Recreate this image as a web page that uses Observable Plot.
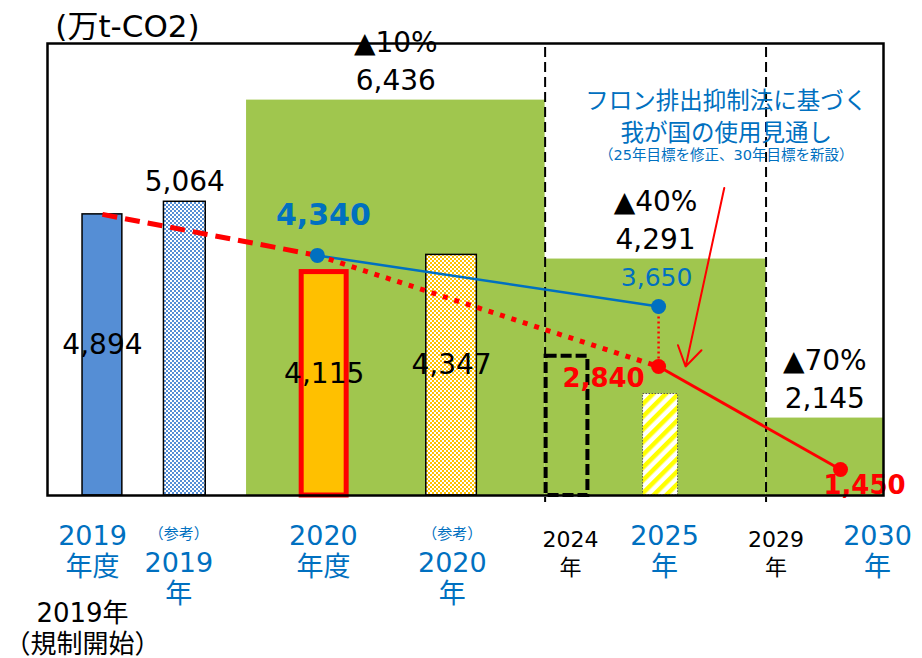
<!DOCTYPE html>
<html lang="ja">
<head>
<meta charset="utf-8">
<script src="https://cdn.jsdelivr.net/npm/d3@7"></script>
<script src="https://cdn.jsdelivr.net/npm/@observablehq/plot@0.6"></script>
<style>
  html, body { margin: 0; padding: 0; background: #fff; }
  #chart svg { display: block; }
</style>
</head>
<body>
<div id="chart"></div>
<script>
// HFC emissions and phase-down outlook (万t-CO2)

// bars: actuals, reference values and planned levels
const barCategories = ["2019年度", "参考2019年", "2020年度", "参考2020年", "2024年", "2025年"];
const barValues = [4894, 5064, 4115, 4347, 2980, 2470];

// phase-down caps per period
const capPeriods = ["2020–2023年", "2024–2028年", "2029年–"];
const capValues = [6436, 4291, 2145];
const capCuts = ["▲10%", "▲40%", "▲70%"];

// earlier outlook (blue)
const outlookCategories = ["2020年度", "2025年"];
const outlookValues = [4340, 3650];

// revised outlook (red)
const targetCategories = ["2019年度", "2020年度", "2025年", "2030年"];
const targetValues = [4894, 4340, 2840, 1450];

// x-axis labels
const tickCategories = ["2019年度", "参考2019年", "2020年度", "参考2020年", "2024年", "2025年", "2029年", "2030年"];
const tickLabels = ["2019\n年度", "2019\n年", "2020\n年度", "2020\n年", "2024\n年", "2025\n年", "2029\n年", "2030\n年"];
const tickNotes = ["", "（参考）", "", "（参考）", "", "", "", ""];

const unitLabel = "(万t-CO2)";
const calloutTitle = ["フロン排出抑制法に基づく", "我が国の使用見通し"];
const calloutNote = "（25年目標を修正、30年目標を新設）";
const startNote = ["2019年", "（規制開始）"];

// ---- layout & styles ----
const BLUE = "#0070C0", RED = "#FF0000", GREEN = "#A0C64E";
const yFloor = 1100, yCeil = 7200;
const fmt = d3.format(",");
const FONT = "'DejaVu Sans', 'Noto Sans CJK JP', sans-serif";

// horizontal slots on the x scale (0–21)
const barSlot = {"2019年度": 1.38, "参考2019年": 3.45, "2020年度": 6.95, "参考2020年": 10.15, "2024年": 13.05, "2025年": 15.4};
const barWidth = {"2019年度": 1.0, "参考2019年": 1.05, "2020年度": 1.13, "参考2020年": 1.27, "2024年": 1.05, "2025年": 0.88};
const pointSlot = {"2019年度": 1.38, "2020年度": 6.78, "2025年": 15.35, "2030年": 19.92};
const tickSlot = {"2019年度": 1.13, "参考2019年": 3.3, "2020年度": 6.93, "参考2020年": 10.17, "2024年": 13.14, "2025年": 15.5, "2029年": 18.3, "2030年": 20.85};
const periodEdges = [5, 12.5, 18.05, 21];
const calloutSlot = 17.05;

const barStyle = {
  "2019年度":   {fill: "#558ED5", stroke: "#000", strokeWidth: 1.5},
  "参考2019年": {fill: "url(#check-blue)", stroke: "#000", strokeWidth: 1.5},
  "2020年度":   {fill: "#FFC000", stroke: RED, strokeWidth: 5},
  "参考2020年": {fill: "url(#check-orange)", stroke: "#000", strokeWidth: 1.5},
  "2024年":     {fill: "none", stroke: "#000", strokeWidth: 4, strokeDasharray: "11,4"},
  "2025年":     {fill: "url(#stripe-yellow)", stroke: "#555", strokeWidth: 1, strokeDasharray: "1.5,1.5"}
};

// ---- derived tables ----
const bars = barCategories.map((cat, i) => ({cat, value: barValues[i]}));
const periods = capPeriods.map((period, i) => ({
  period, value: capValues[i], cut: capCuts[i], x1: periodEdges[i], x2: periodEdges[i + 1]
}));
const outlook = outlookCategories.map((cat, i) => ({cat, x: pointSlot[cat], value: outlookValues[i]}));
const targets = targetCategories.map((cat, i) => ({cat, x: pointSlot[cat], value: targetValues[i]}));
const ticks = tickCategories.map((cat, i) => ({cat, x: tickSlot[cat], label: tickLabels[i], note: tickNotes[i]}));

const targetSegments = d3.pairs(targets).map(([a, b]) => ({x1: a.x, y1: a.value, x2: b.x, y2: b.value}));
const segmentStyle = [
  {strokeWidth: 5, strokeDasharray: "15,8"},
  {strokeWidth: 5, strokeDasharray: "5,7"},
  {strokeWidth: 3}
];

// pattern fills for the reference and planned bars
function patternDefs() {
  const defs = d3.create("svg:defs");
  const checker = (id, color) => {
    const p = defs.append("pattern").attr("id", id)
      .attr("width", 4).attr("height", 4).attr("patternUnits", "userSpaceOnUse");
    p.append("rect").attr("width", 4).attr("height", 4).attr("fill", "#fff");
    p.append("rect").attr("width", 2).attr("height", 2).attr("fill", color);
    p.append("rect").attr("x", 2).attr("y", 2).attr("width", 2).attr("height", 2).attr("fill", color);
  };
  checker("check-blue", "#558ED5");
  checker("check-orange", "#FFC000");
  const s = defs.append("pattern").attr("id", "stripe-yellow")
    .attr("width", 9).attr("height", 9).attr("patternUnits", "userSpaceOnUse")
    .attr("patternTransform", "rotate(45)");
  s.append("rect").attr("width", 9).attr("height", 9).attr("fill", "#fff");
  s.append("rect").attr("width", 4.5).attr("height", 9).attr("fill", "#FFFF00");
  return defs.node();
}

const insideLabels = new Set(["2019年度", "2020年度", "参考2020年"]);
const aboveLabels = new Set(["参考2019年"]);
const minorTicks = new Set(["2024年", "2029年"]);
const pointLabelStyle = {
  outlook: {
    "2020年度": {dx: 6, dy: -40, fontSize: 30, fontWeight: "bold"},
    "2025年": {dx: -2, dy: -29, fontSize: 25, fontWeight: "normal"}
  },
  target: {
    "2025年": {dx: -55, dy: 12, fontSize: 26, fontWeight: "bold"},
    "2030年": {dx: 24, dy: 16, fontSize: 26, fontWeight: "bold"}
  }
};

const marks = [
  patternDefs,

  // cap periods
  Plot.rect(periods, {x1: "x1", x2: "x2", y1: yFloor, y2: "value", fill: GREEN}),
  Plot.text(periods, {x: d => (d.x1 + d.x2) / 2, y: "value", text: d => fmt(d.value), dy: -19, fontSize: 28}),
  Plot.text(periods, {x: d => (d.x1 + d.x2) / 2, y: "value", text: "cut", dy: -57, fontSize: 28}),

  // period dividers
  Plot.ruleX(periodEdges.slice(1, -1), {stroke: "#000", strokeWidth: 2, strokeDasharray: "10,5", insetTop: 4, insetBottom: -7}),

  // bars
  ...bars.map(b => Plot.rect([b], {
    x1: d => barSlot[d.cat] - barWidth[d.cat] / 2,
    x2: d => barSlot[d.cat] + barWidth[d.cat] / 2,
    y1: yFloor, y2: "value",
    ...barStyle[b.cat]
  })),
  Plot.text(bars.filter(d => insideLabels.has(d.cat)), {
    x: d => barSlot[d.cat], y: d => (yFloor + d.value) / 2, text: d => fmt(d.value), dy: -10, fontSize: 28
  }),
  Plot.text(bars.filter(d => aboveLabels.has(d.cat)), {
    x: d => barSlot[d.cat], y: "value", text: d => fmt(d.value), dy: -20, fontSize: 28
  }),

  // earlier outlook (blue)
  Plot.line(outlook, {x: "x", y: "value", stroke: BLUE, strokeWidth: 2.5}),

  // revised outlook (red)
  ...targetSegments.map((s, i) => Plot.link([s], {x1: "x1", y1: "y1", x2: "x2", y2: "y2", stroke: RED, ...segmentStyle[i]})),
  Plot.link([{
    x: pointSlot["2025年"],
    from: outlook.find(d => d.cat === "2025年").value,
    to: targets.find(d => d.cat === "2025年").value
  }], {x1: "x", x2: "x", y1: "from", y2: "to", stroke: RED, strokeWidth: 2.5, strokeDasharray: "2,3"}),

  Plot.dot(outlook, {x: "x", y: "value", r: 7.5, fill: BLUE}),
  Plot.dot(targets.filter(d => pointLabelStyle.target[d.cat]), {x: "x", y: "value", r: 7.5, fill: RED}),

  ...outlook.map(d => Plot.text([d], {x: "x", y: "value", text: d => fmt(d.value), fill: BLUE, ...pointLabelStyle.outlook[d.cat]})),
  ...targets.filter(d => pointLabelStyle.target[d.cat])
    .map(d => Plot.text([d], {x: "x", y: "value", text: d => fmt(d.value), fill: RED, ...pointLabelStyle.target[d.cat]})),

  // callout
  Plot.arrow([{x1: calloutSlot - 0.05, y1: 5250, x2: pointSlot["2025年"] + 0.68, y2: targets.find(d => d.cat === "2025年").value}], {
    x1: "x1", y1: "y1", x2: "x2", y2: "y2", stroke: RED, strokeWidth: 2, headLength: 17, headAngle: 64
  }),
  Plot.text([calloutTitle.join("\n")], {
    x: () => calloutSlot, frameAnchor: "top", lineAnchor: "middle", dy: 71, lineHeight: 1.4, fontSize: 23.5, fill: BLUE
  }),
  Plot.text([calloutNote], {
    x: () => calloutSlot, frameAnchor: "top", lineAnchor: "middle", dy: 112, fontSize: 14.5, fill: BLUE
  }),

  // frame and unit
  Plot.frame({stroke: "#000", strokeWidth: 2.5}),
  Plot.text([unitLabel], {frameAnchor: "top-left", textAnchor: "middle", lineAnchor: "middle", dx: 80, dy: -16, fontSize: 31}),

  // x labels
  Plot.text(ticks.filter(d => !d.note && !minorTicks.has(d.cat)), {
    x: "x", text: "label", frameAnchor: "bottom", lineAnchor: "middle", dy: 55, lineHeight: 1.15, fontSize: 27, fill: BLUE
  }),
  Plot.text(ticks.filter(d => d.note), {
    x: "x", text: "note", frameAnchor: "bottom", lineAnchor: "middle", dy: 39, fontSize: 15, fill: BLUE
  }),
  Plot.text(ticks.filter(d => d.note), {
    x: "x", text: "label", frameAnchor: "bottom", lineAnchor: "middle", dy: 82, lineHeight: 1.15, fontSize: 27, fill: BLUE
  }),
  Plot.text(ticks.filter(d => minorTicks.has(d.cat)), {
    x: "x", text: "label", frameAnchor: "bottom", lineAnchor: "middle", dy: 57, lineHeight: 1.27, fontSize: 22, fill: "#000"
  }),
  Plot.text([startNote.join("\n")], {
    x: () => 0.88, frameAnchor: "bottom", lineAnchor: "middle", dy: 132, lineHeight: 1.2, fontSize: 26, fill: "#000"
  })
];

const chart = Plot.plot({
  width: 922,
  height: 658,
  marginTop: 43,
  marginBottom: 163,
  marginLeft: 47,
  marginRight: 39,
  x: {domain: [0, 21], axis: null},
  y: {domain: [yFloor, yCeil], axis: null},
  style: {fontFamily: FONT, background: "#fff", color: "#000", overflow: "visible"},
  marks
});
document.getElementById("chart").append(chart);
</script>
</body>
</html>
